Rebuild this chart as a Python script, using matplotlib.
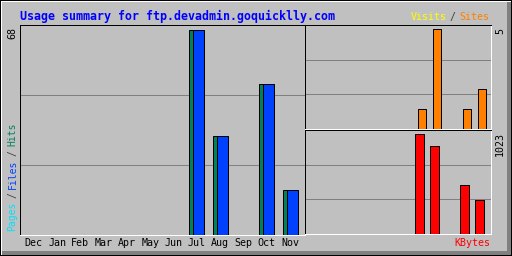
import matplotlib
matplotlib.use("Agg")
import matplotlib.pyplot as plt
from matplotlib.patches import Rectangle
from matplotlib.transforms import blended_transform_factory

# -----------------------------------------------------------------------------
# Data
# -----------------------------------------------------------------------------
months = ["Dec", "Jan", "Feb", "Mar", "Apr", "May", "Jun",
          "Jul", "Aug", "Sep", "Oct", "Nov"]
hits   = [0, 0, 0, 0, 0, 0, 0, 68, 33, 0, 50, 15]
files  = [0, 0, 0, 0, 0, 0, 0, 68, 33, 0, 50, 15]
pages  = [0, 0, 0, 0, 0, 0, 0, 0, 0, 0, 0, 0]
visits = [0, 0, 0, 0, 0, 0, 0, 0, 0, 0, 0, 0]
sites  = [0, 0, 0, 0, 0, 0, 0, 1, 5, 0, 1, 2]
kbytes = [0, 0, 0, 0, 0, 0, 0, 1023, 899, 0, 505, 349]

title = "Usage summary for ftp.devadmin.goquicklly.com"

# -----------------------------------------------------------------------------
# Setup
# -----------------------------------------------------------------------------
W, H = 512, 256
BG = "#C0C0C0"
GRID = "#808080"
C_HITS, C_FILES, C_PAGES = "#00805C", "#0040FF", "#00E0FF"
C_VISITS, C_SITES, C_KB = "#FFFF00", "#FF8000", "#FF0000"
PX = 0.72  # one pixel in points at dpi 100
MONO = "DejaVu Sans Mono"

fig = plt.figure(figsize=(W / 100, H / 100), dpi=100)
fig.patch.set_facecolor(BG)


def fx(x):
    return x / W


def fy(y):
    return 1 - y / H


def px_rect(x, y, w, h, color):
    fig.add_artist(Rectangle((fx(x), fy(y + h)), w / W, h / H,
                             transform=fig.transFigure, facecolor=color,
                             edgecolor="none", zorder=0))


def px_axes(x0, y0, x1, y1):
    ax = fig.add_axes([fx(x0), fy(y1), (x1 - x0) / W, (y1 - y0) / H])
    ax.set_facecolor(BG)
    ax.set_xticks([])
    ax.set_yticks([])
    for side in ("top", "left"):
        ax.spines[side].set_color("black")
    for side in ("bottom", "right"):
        ax.spines[side].set_color("white")
    for s in ax.spines.values():
        s.set_linewidth(PX)
    for f in (1 / 3, 2 / 3):
        ax.plot([0, 1], [f, f], transform=ax.transAxes, color=GRID,
                lw=PX, zorder=1)
    return ax


def bars(ax, vals, offset, width, color):
    xs = [i + offset for i, v in enumerate(vals) if v > 0]
    hs = [v for v in vals if v > 0]
    ax.bar(xs, hs, width=width, align="edge", color=color,
           edgecolor="black", linewidth=PX, zorder=2)


def ftext(x, y, s, **kw):
    fig.text(fx(x), fy(y), s, family=MONO, **kw)


# bevel frame
px_rect(0, 0, W, H, "black")
px_rect(1, 1, W - 2, H - 2, "white")
px_rect(2, 2, W - 3, H - 3, "#808080")
px_rect(2, 2, W - 7, H - 7, BG)

# -----------------------------------------------------------------------------
# Main panel: hits / files / pages
# -----------------------------------------------------------------------------
ax = px_axes(20, 25, 305, 235)
ax.set_xlim(-0.27, 11.96)
ax.set_ylim(0, max(hits) * 210 / 205)
bars(ax, hits, 0.0, 0.47, C_HITS)
bars(ax, files, 0.17, 0.47, C_FILES)
bars(ax, pages, 0.34, 0.47, C_PAGES)

tr = blended_transform_factory(ax.transData, fig.transFigure)
for i, m in enumerate(months):
    ax.text(i + 0.32, fy(243), m, transform=tr, ha="center", va="center",
            family=MONO, fontsize=7.2, color="black")

# -----------------------------------------------------------------------------
# Right panels: visits / sites and kbytes
# -----------------------------------------------------------------------------
ax2 = px_axes(305, 25, 491, 129)
ax2.set_xlim(-0.55, 11.85)
ax2.set_ylim(0, max(sites) * 104 / 100)
bars(ax2, visits, -0.2, 0.49, C_VISITS)
bars(ax2, sites, 0.0, 0.49, C_SITES)

ax3 = px_axes(305, 130, 491, 234)
ax3.set_xlim(-0.55, 11.85)
ax3.set_ylim(0, max(kbytes) * 104 / 100)
bars(ax3, kbytes, -0.2, 0.6, C_KB)

# -----------------------------------------------------------------------------
# Labels
# -----------------------------------------------------------------------------
ftext(20, 16, title, ha="left", va="center", fontsize=8.4,
      fontweight="bold", color="#0000FF")

ftext(12.5, 27, str(max(hits)), rotation=90, ha="center", va="top",
      fontsize=7.2)
ftext(500, 28, str(max(sites)), rotation=90, ha="center", va="top",
      fontsize=7.2)
ftext(500, 132, str(max(kbytes)), rotation=90, ha="center", va="top",
      fontsize=7.2)

# rotated multi-colour label, pieces placed by character index
pitch, bottom = 5.25, 229
pos = 0
for s, c in [("Pages", C_PAGES), (" / ", "#404040"), ("Files", C_FILES),
             (" / ", "#404040"), ("Hits", C_HITS)]:
    yc = bottom - (pos + len(s) / 2) * pitch
    ftext(12.5, yc, s.strip(), rotation=90, ha="center", va="center",
          fontsize=7.0, color=c)
    pos += len(s)

ftext(411, 17, "Visits", ha="left", va="center", fontsize=7.2,
      color=C_VISITS)
ftext(452, 17, "/", ha="center", va="center", fontsize=7.2, color="#404040")
ftext(459, 17, "Sites", ha="left", va="center", fontsize=7.2, color=C_SITES)
ftext(490, 243, "KBytes", ha="right", va="center", fontsize=7.2, color=C_KB)

fig.savefig("out.png", dpi=100, facecolor=BG)
